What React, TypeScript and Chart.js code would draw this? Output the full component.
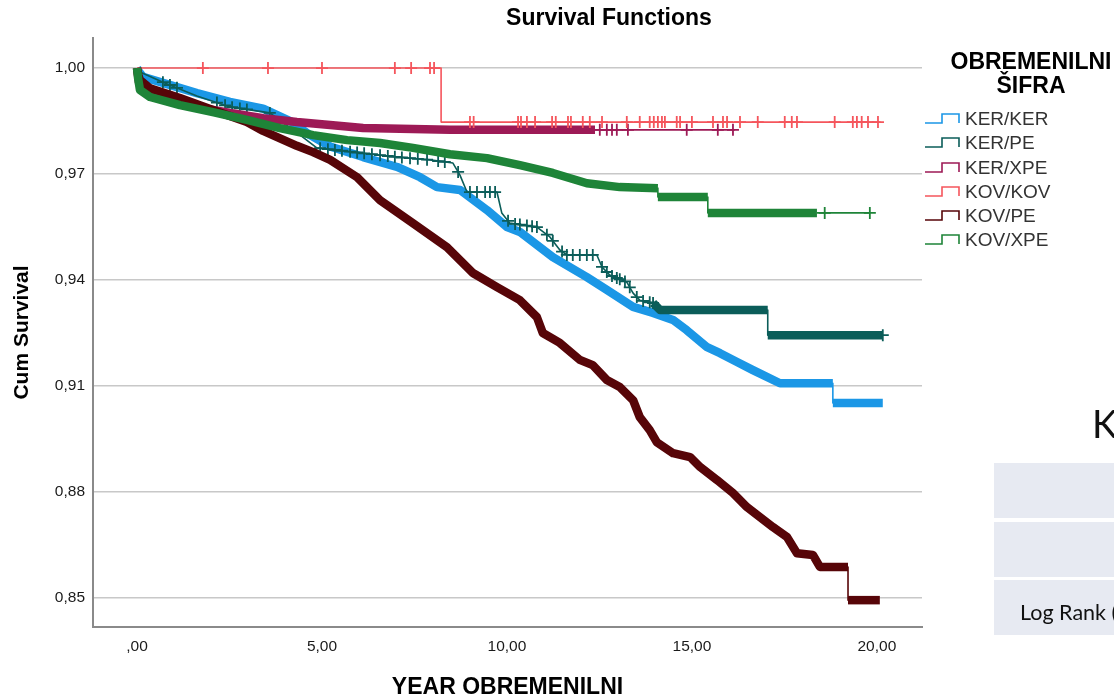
import React, { useEffect, useRef } from 'react';
import { Chart, registerables } from 'chart.js';

Chart.register(...registerables);

const FONT = "'Liberation Sans', Arial, Helvetica, sans-serif";

const seriesNames = ['KER/KER', 'KER/PE', 'KER/XPE', 'KOV/KOV', 'KOV/PE', 'KOV/XPE'];
const seriesColors = ['#1b97e6', '#0b5d59', '#9d1a56', '#f5555c', '#570508', '#1e8438'];

// KER/KER
const kerKerYears = [0, 0.05, 0.16, 0.7, 1.62, 2.51, 3.41, 4.14, 4.68, 5.22, 6.11, 7.03, 7.65, 8.11, 8.73, 9.46, 10.0, 10.35, 11.24, 12.16, 12.7, 13.41, 13.95, 14.49, 14.86, 15.41, 15.76, 16.22, 16.65, 17.38, 18.81, 18.81, 20.16];
const kerKerSurvival = [1, 0.999, 0.9975, 0.9958, 0.9929, 0.9904, 0.9885, 0.985, 0.981, 0.9778, 0.9748, 0.972, 0.9691, 0.9663, 0.9655, 0.9598, 0.955, 0.9536, 0.9465, 0.9408, 0.9372, 0.9324, 0.9307, 0.9287, 0.9258, 0.921, 0.9193, 0.9168, 0.9145, 0.9108, 0.9108, 0.9052, 0.9052];
const kerKerCensored: number[] = [];

// KER/PE
const kerPeYears = [0, 0.05, 0.7, 1.62, 2.51, 3.59, 4.41, 4.86, 6.11, 7.03, 7.92, 8.54, 8.73, 8.92, 9.73, 9.86, 10.08, 10.81, 11.16, 11.43, 11.62, 12.43, 12.57, 12.78, 13.24, 13.41, 13.59, 13.95, 14.14, 17.05, 17.05, 20.16];
const kerPeSurvival = [1, 0.999, 0.996, 0.9921, 0.989, 0.9873, 0.981, 0.9774, 0.9759, 0.9748, 0.974, 0.9731, 0.9697, 0.9649, 0.9649, 0.959, 0.9561, 0.955, 0.9522, 0.9485, 0.9471, 0.9471, 0.9437, 0.9414, 0.9394, 0.9363, 0.9343, 0.9335, 0.9315, 0.9315, 0.9244, 0.9244];
const kerPeCensored = [0.7, 0.89, 1.08, 2.16, 2.38, 2.57, 2.78, 2.97, 3.59, 4.95, 5.16, 5.35, 5.54, 5.76, 5.95, 6.14, 6.35, 6.57, 6.78, 6.97, 7.16, 7.38, 7.59, 7.84, 8.14, 8.32, 8.68, 9.0, 9.19, 9.41, 9.54, 9.68, 10.03, 10.22, 10.35, 10.54, 10.68, 10.81, 11.08, 11.24, 11.49, 11.62, 11.78, 11.97, 12.16, 12.32, 12.57, 12.7, 12.84, 12.97, 13.05, 13.19, 13.32, 13.51, 13.68, 13.86, 13.95, 20.16];

// KER/XPE
const kerXpeYears = [0, 0.05, 0.5, 1.35, 2.51, 3.41, 4.32, 5.22, 6.11, 8.46, 12.38, 16.16];
const kerXpeSurvival = [1, 0.996, 0.9925, 0.9895, 0.9873, 0.9858, 0.9847, 0.9839, 0.983, 0.9825, 0.9825, 0.9825];
const kerXpeCensored = [12.51, 12.7, 12.84, 12.97, 13.27, 14.86, 15.7, 16.11];

// KOV/KOV
const kovKovYears = [0, 8.22, 8.22, 20.1];
const kovKovSurvival = [1, 1, 0.9847, 0.9847];
const kovKovCensored = [1.78, 3.54, 5.0, 6.97, 7.41, 7.92, 8.03, 9.0, 9.1, 10.3, 10.38, 10.54, 10.76, 11.22, 11.32, 11.65, 11.73, 12.05, 12.24, 12.57, 13.24, 13.59, 13.86, 13.97, 14.08, 14.19, 14.27, 14.59, 14.68, 15.0, 15.57, 15.84, 15.95, 16.3, 16.78, 17.51, 17.7, 17.84, 18.86, 19.35, 19.46, 19.59, 19.76, 20.03];

// KOV/PE
const kovPeYears = [0, 0.03, 0.08, 0.35, 1.16, 2.05, 2.97, 3.41, 4.32, 4.76, 5.22, 5.95, 6.57, 7.46, 8.38, 9.08, 9.73, 10.35, 10.81, 10.97, 11.43, 11.97, 12.32, 12.7, 13.05, 13.41, 13.59, 13.86, 14.05, 14.49, 14.95, 15.22, 15.68, 16.11, 16.49, 16.84, 17.19, 17.57, 17.84, 18.27, 18.46, 19.22, 19.22, 20.08];
const kovPeSurvival = [1, 0.998, 0.9966, 0.9943, 0.9915, 0.9881, 0.9847, 0.9822, 0.978, 0.9762, 0.974, 0.9691, 0.9626, 0.9561, 0.9493, 0.942, 0.938, 0.9343, 0.9295, 0.925, 0.9222, 0.9174, 0.9159, 0.9117, 0.9097, 0.906, 0.9012, 0.8975, 0.8941, 0.891, 0.8899, 0.8871, 0.8834, 0.8797, 0.8757, 0.8729, 0.8701, 0.8673, 0.8627, 0.8622, 0.8588, 0.8588, 0.8494, 0.8494];
const kovPeCensored: number[] = [];

// KOV/XPE
const kovXpeYears = [0, 0.03, 0.08, 0.35, 1.16, 2.05, 2.97, 3.86, 4.76, 5.68, 6.57, 7.46, 8.46, 9.46, 10.35, 11.24, 12.16, 13.05, 14.08, 14.08, 15.43, 15.43, 18.38, 19.81];
const kovXpeSurvival = [1, 0.997, 0.9938, 0.9918, 0.9895, 0.9875, 0.9853, 0.983, 0.981, 0.9796, 0.9788, 0.9774, 0.9756, 0.9745, 0.9725, 0.9703, 0.9674, 0.9663, 0.966, 0.9635, 0.9635, 0.959, 0.959, 0.959];
const kovXpeCensored = [18.59, 19.81];

// year spans where censoring marks are so dense they form a solid band
const denseSpans: (number[] | null)[] = [[0, 20.2], [13.9, 20.2], [0, 12.4], null, [0, 20.1], [0, 18.4]];

const allYears = [kerKerYears, kerPeYears, kerXpeYears, kovKovYears, kovPeYears, kovXpeYears];
const allSurvival = [kerKerSurvival, kerPeSurvival, kerXpeSurvival, kovKovSurvival, kovPeSurvival, kovXpeSurvival];
const allCensored = [kerKerCensored, kerPeCensored, kerXpeCensored, kovKovCensored, kovPeCensored, kovXpeCensored];

const xTickValues = [0, 5, 10, 15, 20];
const xTickLabels = [',00', '5,00', '10,00', '15,00', '20,00'];
const yTickValues = [0.85, 0.88, 0.91, 0.94, 0.97, 1.0];
const yTickLabels = ['0,85', '0,88', '0,91', '0,94', '0,97', '1,00'];

function survivalAt(xs: number[], ys: number[], t: number): number {
  for (let i = 0; i < xs.length - 1; i++) {
    if (t >= xs[i] && t <= xs[i + 1] && xs[i + 1] > xs[i]) {
      return ys[i] + ((ys[i + 1] - ys[i]) * (t - xs[i])) / (xs[i + 1] - xs[i]);
    }
  }
  return ys[ys.length - 1];
}

const THICK = 8.5;
const THIN = 1.6;

const titleShift = {
  id: 'titleShift',
  afterLayout(chart: any) {
    const tb = chart.titleBlock;
    if (tb) {
      tb.left = 104;
      tb.right = 1114;
      tb.width = 1010;
    }
  },
};

export default function App() {
  const ref = useRef<HTMLCanvasElement | null>(null);

  useEffect(() => {
    if (!ref.current) return;
    const datasets: any[] = [];
    seriesNames.forEach((name, i) => {
      const xs = allYears[i];
      const ys = allSurvival[i];
      const color = seriesColors[i];
      const span = denseSpans[i];
      datasets.push({
        label: name,
        data: xs.map((x, k) => ({ x, y: ys[k] })),
        borderColor: color,
        backgroundColor: color,
        borderWidth: THIN,
        pointRadius: 0,
        fill: false,
        tension: 0,
        borderJoinStyle: 'round',
        borderCapStyle: 'butt',
        order: (5 - i) * 2 + 1,
        segment: {
          borderWidth: (ctx: any) => {
            const x0 = ctx.p0.parsed.x;
            const x1 = ctx.p1.parsed.x;
            if (x0 === x1) return THIN;
            if (span && x0 >= span[0] - 1e-9 && x1 <= span[1] + 1e-9) return THICK;
            return THIN;
          },
        },
      });
      const cens = allCensored[i];
      if (cens.length) {
        datasets.push({
          label: name + ' censored',
          data: cens.map((t) => ({ x: t, y: survivalAt(xs, ys, t) })),
          showLine: false,
          pointStyle: 'cross',
          pointRadius: 6,
          pointBorderWidth: 1.8,
          pointBorderColor: color,
          pointBackgroundColor: color,
          borderColor: color,
          order: (5 - i) * 2,
        });
      }
    });

    const chart = new Chart(ref.current, {
      type: 'line',
      data: { datasets },
      plugins: [titleShift],
      options: {
        responsive: false,
        animation: false,
        devicePixelRatio: 1,
        events: [],
        layout: { padding: { left: 0, right: 192, top: 0, bottom: 0 } },
        plugins: {
          legend: { display: false },
          tooltip: { enabled: false },
          title: {
            display: true,
            text: 'Survival Functions',
            color: '#000',
            font: { family: FONT, size: 23, weight: 'bold' },
            padding: { top: 5, bottom: 5.4 },
          },
        },
        scales: {
          x: {
            type: 'linear',
            min: -1.19,
            max: 21.22,
            afterBuildTicks: (s: any) => {
              s.ticks = xTickValues.map((v) => ({ value: v }));
            },
            afterFit: (s: any) => {
              s.height = 73;
            },
            ticks: {
              callback: (_v: any, idx: number) => xTickLabels[idx],
              font: { family: FONT, size: 15.5 },
              color: '#1a1a1a',
              padding: 10,
              maxRotation: 0,
              autoSkip: false,
            },
            grid: { display: false, drawTicks: false },
            border: { display: true, color: '#8a8a8a', width: 2 },
            title: {
              display: true,
              text: 'YEAR OBREMENILNI',
              color: '#000',
              font: { family: FONT, size: 23, weight: 'bold', lineHeight: 1 },
              padding: { top: 0, bottom: 0.5 },
            },
          },
          y: {
            type: 'linear',
            min: 0.8418,
            max: 1.0085,
            afterBuildTicks: (s: any) => {
              s.ticks = yTickValues.map((v) => ({ value: v }));
            },
            afterFit: (s: any) => {
              s.width = 93;
            },
            ticks: {
              callback: (_v: any, idx: number) => yTickLabels[idx],
              font: { family: FONT, size: 15.5 },
              color: '#1a1a1a',
              padding: 8,
              autoSkip: false,
            },
            grid: { display: true, drawTicks: false, color: '#c8c8c8', lineWidth: 1.5 },
            border: { display: true, color: '#8a8a8a', width: 2 },
            title: {
              display: true,
              text: 'Cum Survival',
              color: '#000',
              font: { family: FONT, size: 21, weight: 'bold' },
              padding: { top: 9.4, bottom: 0 },
            },
          },
        },
      } as any,
    });
    return () => chart.destroy();
  }, []);

  return (
    <div style={{ position: 'fixed', left: 0, top: 0, width: 1114, height: 700, overflow: 'hidden', background: '#fff' }}>
      <canvas ref={ref} width={1114} height={700} style={{ position: 'absolute', left: 0, top: 0, width: 1114, height: 700 }} />
      <div
        style={{
          position: 'absolute', left: 931, top: 48.5, width: 200, textAlign: 'center',
          fontFamily: FONT, fontWeight: 'bold', fontSize: 23, lineHeight: '24px', color: '#000',
        }}
      >
        <div>OBREMENILNI</div>
        <div>ŠIFRA</div>
      </div>
      {seriesNames.map((name, i) => (
        <div key={name} style={{ position: 'absolute', left: 0, top: 107.1 + 24.2 * i, width: 1114, height: 24.2 }}>
          <svg width="38" height="14" style={{ position: 'absolute', left: 923, top: 5 }}>
            <path d="M2 11 H19 V2 H36 V11" fill="none" stroke={seriesColors[i]} strokeWidth="1.6" />
          </svg>
          <div style={{ position: 'absolute', left: 965, top: 0, fontFamily: FONT, fontSize: 19, lineHeight: '24.2px', color: '#333', whiteSpace: 'nowrap' }}>
            {name}
          </div>
        </div>
      ))}
      <div style={{ position: 'absolute', left: 1092, top: 404, fontFamily: 'Lato, sans-serif', fontSize: 38, lineHeight: '38px', color: '#111' }}>K</div>
      <div style={{ position: 'absolute', left: 994, top: 463, width: 140, height: 55, background: '#e7eaf2' }} />
      <div style={{ position: 'absolute', left: 994, top: 522, width: 140, height: 55, background: '#e7eaf2' }} />
      <div style={{ position: 'absolute', left: 994, top: 580, width: 140, height: 55, background: '#e7eaf2' }} />
      <div style={{ position: 'absolute', left: 1020, top: 600.5, fontFamily: 'Lato, sans-serif', fontSize: 21.5, lineHeight: '22px', color: '#111', whiteSpace: 'nowrap' }}>Log Rank (Mantel-Cox)</div>
    </div>
  );
}
